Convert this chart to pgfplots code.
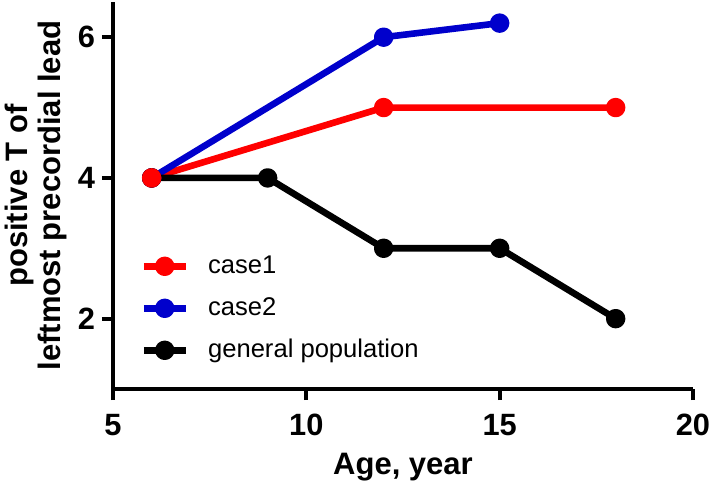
\documentclass[border=0pt]{standalone}
\usepackage{pgfplots}
\pgfplotsset{compat=1.18}
\usepackage{fontspec}
\setmainfont{Liberation Sans}
\definecolor{cred}{RGB}{255,0,0}
\definecolor{cblue}{RGB}{0,0,204}
\begin{document}
\begin{tikzpicture}
\path[use as bounding box] (-56.5pt,-47.5pt) rectangle (298pt,194.5pt);
\begin{axis}[
  at={(0,0)}, anchor=south west,
  scale only axis,
  width=290pt, height=193.5pt,
  xmin=5, xmax=20, ymin=1, ymax=6.5,
  axis x line*=bottom, axis y line*=left,
  axis line style={line width=2pt},
  every tick/.style={line width=2pt, black},
  major tick length=5.5pt,
  tick align=outside,
  xtick={5,10,15,20}, ytick={2,4,6},
  minor tick num=0,
  /pgf/number format/assume math mode=true,
  tick label style={font=\fontsize{15.4}{17}\selectfont\bfseries},
  xticklabel style={yshift=-3.5pt},
  label style={font=\fontsize{15.5}{16.5}\selectfont\bfseries},
  xlabel={Age, year},
  ylabel={positive T of\\leftmost precordial lead},
  ylabel style={align=center, at={(axis description cs:-0.132,0.5)}, anchor=center},
  xlabel style={at={(axis description cs:0.5,-0.203)}, anchor=center},
  legend style={draw=none, fill=none, inner sep=0pt, at={(axis cs:5.7,2.92)}, anchor=north west,
    font=\fontsize{12.8}{13}\selectfont, row sep=9pt,
    nodes={inner sep=0pt, text height=9.5pt, text depth=2.5pt},
    /tikz/every odd column/.append style={column sep=9.5pt}},
  legend cell align=left,
  legend image code/.code={\draw[mark repeat=2,mark phase=2] plot coordinates {(0pt,0pt) (10.5pt,0pt) (21pt,0pt)};},
  clip=false,
]
\addplot[cred, line width=3.3pt, line join=round, mark=*, mark size=3.2pt] coordinates {(6,4) (12,5) (18,5)};
\addlegendentry{case1}
\addplot[cblue, line width=3.3pt, line join=round, mark=*, mark size=3.2pt] coordinates {(6,4) (12,6) (15,6.2)};
\addlegendentry{case2}
\addplot[black, line width=3.3pt, line join=round, mark=*, mark size=3.2pt] coordinates {(6,4) (9,4) (12,3) (15,3) (18,2)};
\addlegendentry{general population}
\addplot[cred, line width=3.3pt, mark=*, mark size=3.2pt, forget plot] coordinates {(6,4)};
\end{axis}
\end{tikzpicture}
\end{document}
